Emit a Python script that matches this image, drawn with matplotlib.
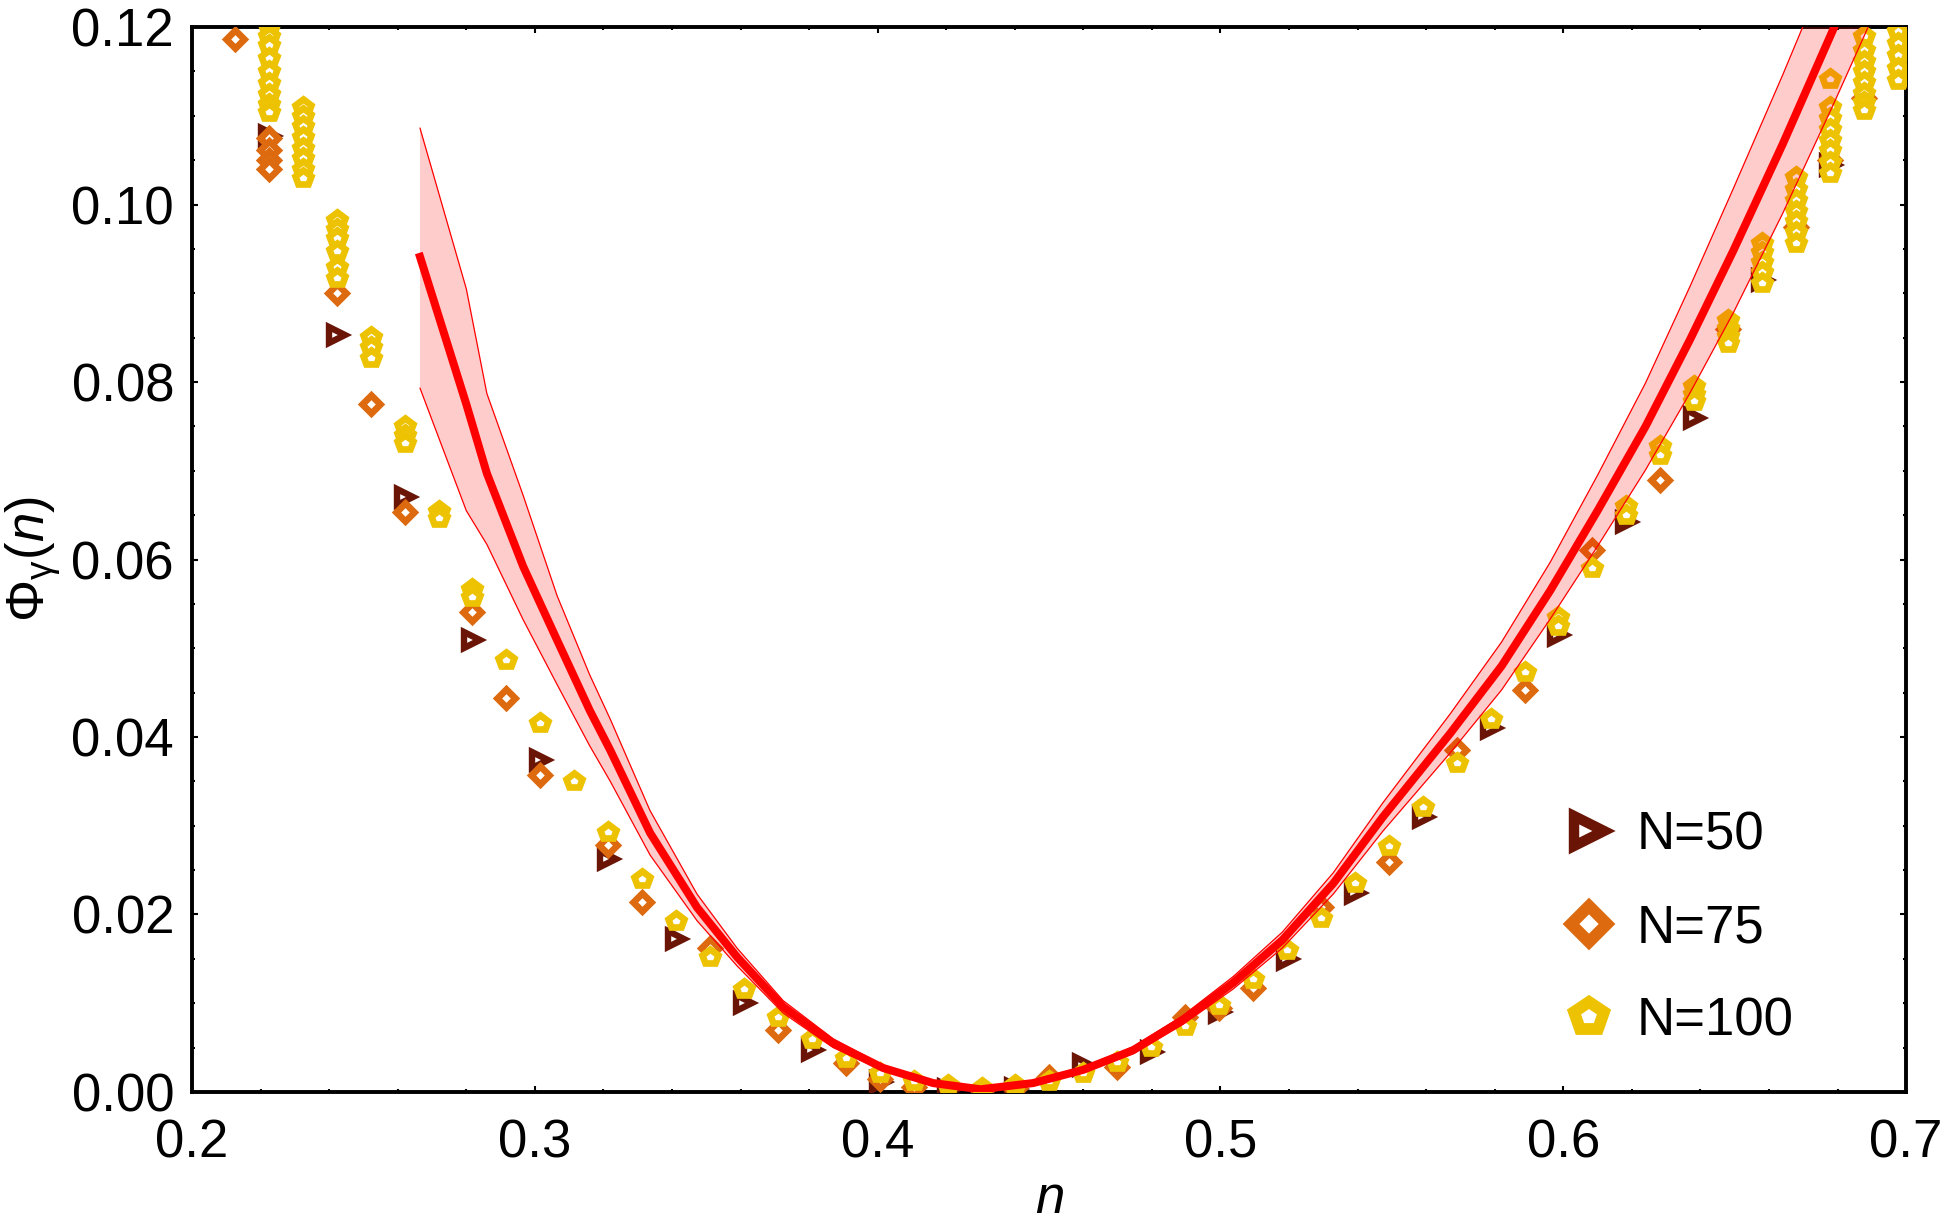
import numpy as np
import matplotlib
matplotlib.use("Agg")
import matplotlib.pyplot as plt
from matplotlib.lines import Line2D
from matplotlib.ticker import MultipleLocator, FormatStrFormatter

plt.rcParams['font.family'] = ['Liberation Sans', 'DejaVu Sans']
plt.rcParams['mathtext.fontset'] = 'custom'
plt.rcParams['mathtext.rm'] = 'Liberation Sans'
plt.rcParams['mathtext.it'] = 'Liberation Sans:italic'

# marker positions on n axis (0.01 bins)
grid = {0.21: 0.2125, 0.22: 0.2224, 0.23: 0.2323, 0.24: 0.2422, 0.25: 0.2521,
        0.26: 0.2620, 0.27: 0.2719, 0.28: 0.2818, 0.29: 0.2917, 0.30: 0.3016,
        0.31: 0.3115, 0.32: 0.3214, 0.33: 0.3313, 0.34: 0.3412, 0.35: 0.3511,
        0.36: 0.3610, 0.37: 0.3709, 0.38: 0.3808, 0.39: 0.3907, 0.40: 0.4006,
        0.41: 0.4105, 0.42: 0.4204, 0.43: 0.4303, 0.44: 0.4402, 0.45: 0.4501,
        0.46: 0.4600, 0.47: 0.4699, 0.48: 0.4798, 0.49: 0.4897, 0.50: 0.4996,
        0.51: 0.5095, 0.52: 0.5194, 0.53: 0.5293, 0.54: 0.5392, 0.55: 0.5491,
        0.56: 0.5590, 0.57: 0.5689, 0.58: 0.5788, 0.59: 0.5887, 0.60: 0.5986,
        0.61: 0.6085, 0.62: 0.6184, 0.63: 0.6283, 0.64: 0.6382, 0.65: 0.6481,
        0.66: 0.6580, 0.67: 0.6679, 0.68: 0.6778, 0.69: 0.6877, 0.70: 0.6976}

# N=50
n50 = [0.22, 0.24, 0.26, 0.28, 0.30, 0.32, 0.34, 0.36, 0.38, 0.40, 0.42, 0.44,
       0.46, 0.48, 0.50, 0.52, 0.54, 0.56, 0.58, 0.60, 0.62, 0.64, 0.66, 0.68]
phi50 = [0.1077, 0.0853, 0.0670, 0.0509, 0.0374, 0.0263, 0.0172, 0.0100, 0.0047,
         0.0011, 0.0002, 0.0003, 0.0030, 0.0045, 0.0090, 0.0150, 0.0224, 0.0310,
         0.0410, 0.0515, 0.0642, 0.0760, 0.0915, 0.1045]

# N=75
n75 = [0.21, 0.22, 0.22, 0.22, 0.22, 0.24, 0.25, 0.26, 0.28, 0.29, 0.30, 0.32,
       0.33, 0.35, 0.37, 0.39, 0.40, 0.41, 0.43, 0.44, 0.45, 0.47, 0.49, 0.50,
       0.51, 0.53, 0.55, 0.57, 0.59, 0.61, 0.63, 0.65, 0.67, 0.68, 0.69]
phi75 = [0.1186, 0.1075, 0.1062, 0.1050, 0.1040, 0.0900, 0.0775, 0.0654, 0.0541,
         0.0444, 0.0357, 0.0278, 0.0214, 0.0162, 0.0070, 0.0033, 0.0015, 0.0006,
         0.0002, 0.0004, 0.0017, 0.0028, 0.0085, 0.0095, 0.0117, 0.0208, 0.0259,
         0.0385, 0.0453, 0.0611, 0.0690, 0.0860, 0.0975, 0.1050, 0.1120]

# N=100 (several values per bin at the ends)
phi100 = {
    0.22: [0.1215, 0.1200, 0.1190, 0.1180, 0.1165, 0.1150, 0.1137, 0.1125, 0.1113, 0.1104],
    0.23: [0.1110, 0.1100, 0.1088, 0.1076, 0.1064, 0.1052, 0.1040, 0.1030],
    0.24: [0.0983, 0.0972, 0.0962, 0.0948, 0.0930, 0.0917],
    0.25: [0.0851, 0.0839, 0.0827],
    0.26: [0.0750, 0.0740, 0.0731],
    0.27: [0.0655, 0.0647],
    0.28: [0.0567, 0.0558],
    0.29: [0.0487], 0.30: [0.0416], 0.31: [0.0350], 0.32: [0.0293],
    0.33: [0.0240], 0.34: [0.0193], 0.35: [0.0152], 0.36: [0.0116],
    0.37: [0.0085], 0.38: [0.0060], 0.39: [0.0038], 0.40: [0.0021],
    0.41: [0.0012], 0.42: [0.0008], 0.43: [0.0005], 0.44: [0.0008],
    0.45: [0.0012], 0.46: [0.0021], 0.47: [0.0034], 0.48: [0.0051],
    0.49: [0.0074], 0.50: [0.0098], 0.51: [0.0127], 0.52: [0.0160],
    0.53: [0.0196], 0.54: [0.0235], 0.55: [0.0277], 0.56: [0.0321],
    0.57: [0.0371], 0.58: [0.0420], 0.59: [0.0473],
    0.60: [0.0535, 0.0525],
    0.61: [0.0590],
    0.62: [0.0660, 0.0650],
    0.63: [0.0728, 0.0718],
    0.64: [0.0795, 0.0787, 0.0779],
    0.65: [0.0870, 0.0861, 0.0852, 0.0844],
    0.66: [0.0957, 0.0946, 0.0935, 0.0924, 0.0912],
    0.67: [0.1031, 0.1018, 0.1005, 0.0993, 0.0981, 0.0969, 0.0957],
    0.68: [0.1142, 0.1110, 0.1097, 0.1085, 0.1073, 0.1061, 0.1048, 0.1036],
    0.69: [0.1190, 0.1174, 0.1162, 0.1150, 0.1138, 0.1126, 0.1115, 0.1107],
    0.70: [0.1195, 0.1182, 0.1168, 0.1154, 0.1140],
}

# theory curve with its band
n_th = [0.2665, 0.280, 0.286, 0.2966, 0.3065, 0.316, 0.322, 0.3336, 0.3473, 0.359,
        0.3724, 0.387, 0.4016, 0.4162, 0.430, 0.4453, 0.460, 0.4745, 0.489, 0.5037,
        0.518, 0.5329, 0.5474, 0.567, 0.582, 0.5962, 0.610, 0.624, 0.637, 0.6496,
        0.664, 0.6787, 0.700]
phi_th = [0.0941, 0.0775, 0.0697, 0.0592, 0.0509, 0.0430, 0.0385, 0.0292, 0.0208,
          0.0152, 0.0096, 0.0055, 0.0027, 0.0010, 0.0003, 0.0010, 0.0025, 0.0047,
          0.0081, 0.0123, 0.0171, 0.0235, 0.0310, 0.0404, 0.0480, 0.0565, 0.0655,
          0.0750, 0.0848, 0.0948, 0.1068, 0.1197, 0.1390]
err_up = [0.0145, 0.0130, 0.0090, 0.0080, 0.0050, 0.0040, 0.0035, 0.0025, 0.0015,
          0.0010, 0.0007, 0.0005, 0.0003, 0.0002, 0.0001, 0.0002, 0.0003, 0.0004,
          0.0005, 0.0007, 0.0009, 0.0012, 0.0016, 0.0022, 0.0027, 0.0032, 0.0040,
          0.0049, 0.0060, 0.0070, 0.0078, 0.0085, 0.0095]
err_lo = [0.0148, 0.0120, 0.0080, 0.0060, 0.0050, 0.0040, 0.0035, 0.0025, 0.0015,
          0.0010, 0.0007, 0.0005, 0.0003, 0.0002, 0.0001, 0.0002, 0.0003, 0.0004,
          0.0005, 0.0007, 0.0009, 0.0012, 0.0016, 0.0022, 0.0027, 0.0032, 0.0040,
          0.0049, 0.0060, 0.0070, 0.0078, 0.0085, 0.0095]

c50, c75, c100 = '#6b1507', '#dd6a0e', '#edc200'

fig = plt.figure(figsize=(19.44, 12.29), dpi=100)
ax = fig.add_axes([0.0988, 0.1115, 0.8817, 0.8665])

x50 = [grid[k] for k in n50]
x75 = [grid[k] for k in n75]
x100, y100 = [], []
for k, vals in phi100.items():
    for v in vals:
        x100.append(grid[k])
        y100.append(v)

ax.plot(x50, phi50, ls='none', marker='>', ms=11.5, mew=4.6, mfc='white', mec=c50, zorder=3)
ax.plot(x75, phi75, ls='none', marker='D', ms=9.5, mew=4.8, mfc='white', mec=c75, zorder=4)
ax.plot(x100, y100, ls='none', marker='p', ms=11.5, mew=4.8, mfc='white', mec=c100, zorder=5)

n_th = np.array(n_th)
phi_th = np.array(phi_th)
up = phi_th + np.array(err_up)
lo = phi_th - np.array(err_lo)
ax.fill_between(n_th, lo, up, color='red', alpha=0.2, lw=0, zorder=6)
ax.plot(n_th, up, color='red', lw=0.9, zorder=7)
ax.plot(n_th, lo, color='red', lw=0.9, zorder=7)
ax.plot(n_th, phi_th, color='red', lw=5.8, zorder=8)

ax.set_xlim(0.2, 0.7)
ax.set_ylim(0.0, 0.12)
ax.xaxis.set_major_locator(MultipleLocator(0.1))
ax.xaxis.set_minor_locator(MultipleLocator(0.02))
ax.yaxis.set_major_locator(MultipleLocator(0.02))
ax.yaxis.set_minor_locator(MultipleLocator(0.005))
ax.xaxis.set_major_formatter(FormatStrFormatter('%.1f'))
ax.yaxis.set_major_formatter(FormatStrFormatter('%.2f'))
ax.tick_params(which='both', direction='in', top=True, right=True, width=1.5)
ax.tick_params(which='major', length=4, labelsize=38)
ax.tick_params(which='minor', length=2.5)
ax.tick_params(axis='x', which='major', pad=19)
ax.tick_params(axis='y', which='major', pad=13)
for s in ax.spines.values():
    s.set_linewidth(2.8)

ax.set_xlabel(r'$n$', fontsize=38, labelpad=4)
ax.set_ylabel(r'$\mathrm{\Phi}_{\mathrm{\gamma}}(n)$', fontsize=38, labelpad=6)

handles = [Line2D([], [], ls='none', marker='>', ms=21, mew=7.5, mfc='white', mec=c50),
           Line2D([], [], ls='none', marker='D', ms=18, mew=8.5, mfc='white', mec=c75),
           Line2D([], [], ls='none', marker='p', ms=22, mew=8.5, mfc='white', mec=c100)]
ax.legend(handles, ['N=50', 'N=75', 'N=100'], loc='lower right', frameon=False,
          fontsize=38, handletextpad=0.3, labelspacing=0.82, handlelength=1.2,
          bbox_to_anchor=(0.962, -0.002))

fig.savefig('out.png', dpi=100)
